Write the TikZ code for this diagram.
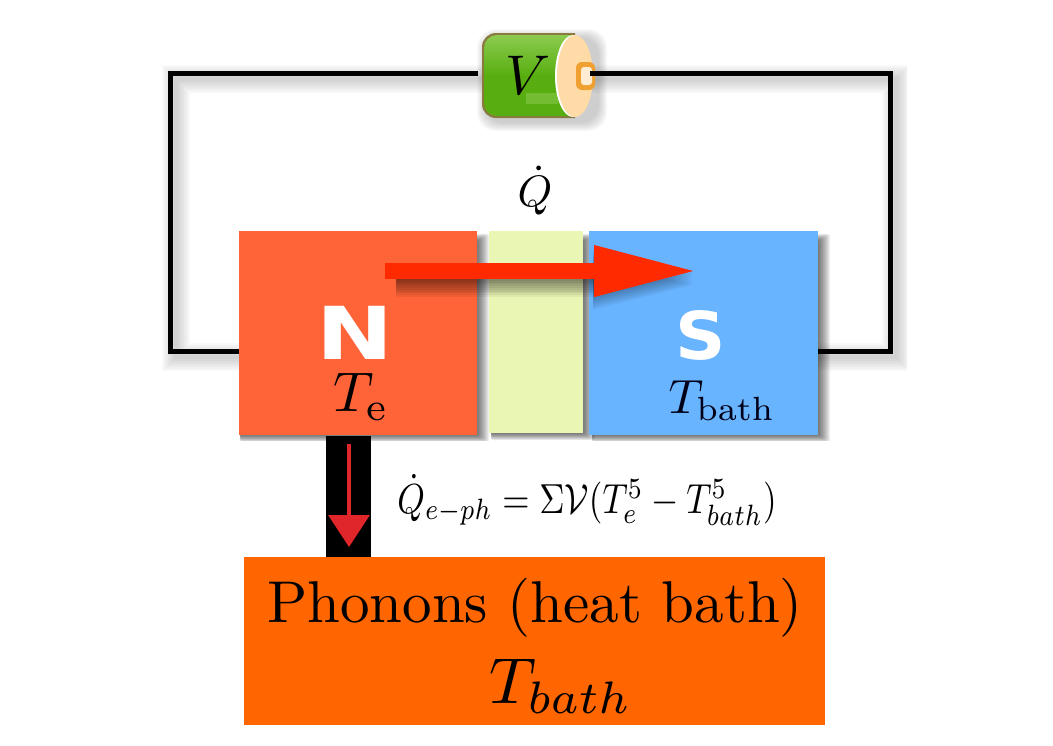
\documentclass[tikz,border=0pt]{standalone}
\usepackage{fontspec}
\newfontfamily\polefont{DejaVu Sans}
\usetikzlibrary{arrows.meta}
\definecolor{nred}{HTML}{FF6438}
\definecolor{sblue}{HTML}{69B4FF}
\definecolor{barrier}{HTML}{EAF6B4}
\definecolor{bathorange}{HTML}{FF6600}
\definecolor{heatred}{HTML}{FF2A00}
\definecolor{downred}{HTML}{E0262A}
\definecolor{battgreen}{HTML}{58AE10}
\definecolor{battlight}{HTML}{8CCB50}
\definecolor{battcap}{HTML}{FFDBA8}
\definecolor{battedge}{HTML}{8A7A40}
\definecolor{nuborange}{HTML}{EFA030}
\newcommand{\softbox}[4]{%
  \foreach \k in {1,...,12}{%
    \fill[black,opacity=0.06,rounded corners=2pt] (#1,#2+7-0.6*\k) rectangle (#3+\k,#4+0.6*\k);}}
\newcommand{\softline}[1]{%
  \foreach \w in {4,8,...,28}{%
    \draw[black,opacity=0.028,line width=\w pt] #1;}}
\tikzset{
  x=1pt,y=-1pt,
  wire/.style={draw=black,line width=5pt,line join=miter},
  block/.style={draw=none,minimum height=204pt,inner sep=0pt,outer sep=0pt,anchor=north west},
  polelabel/.style={text=white,inner sep=0pt,font=\polefont\bfseries},
  mathlabel/.style={inner sep=0pt,text=black},
  heatarrow/.style={draw=heatred,line width=16pt,-{Triangle[length=104pt,width=47pt,color=heatred]}},
  downarrow/.style={draw=downred,line width=3.5pt,-{Triangle[length=32pt,width=41pt,color=downred]}},
}
\begin{document}
\begin{tikzpicture}
\useasboundingbox (0,0) rectangle (1053,745);
% soft shadows
\begin{scope}
\clip (130,45) rectangle (907,440);
\softline{(488,79) -- (176,79) -- (176,357) -- (250,357)}
\softline{(590,79) -- (896,79) -- (896,357) -- (810,357)}
\softbox{240}{234}{477}{435}
\softbox{491}{234}{583}{433}
\softbox{592}{234}{818}{435}
\end{scope}
% blocks
\node[block,fill=nred,minimum width=238.5pt] (N) at (238.5,231) {};
\node[block,fill=barrier,minimum width=94pt,minimum height=202pt] (B) at (489,231) {};
\node[block,fill=sblue,minimum width=229pt] (S) at (589,231) {};
\node[draw=none,fill=black,minimum width=45pt,minimum height=122pt,inner sep=0pt,outer sep=0pt,anchor=north west] (bar) at (326,436) {};
\node[draw=none,fill=bathorange,minimum width=581pt,minimum height=168pt,inner sep=0pt,outer sep=0pt,anchor=north west] (bath) at (244,557) {};
% battery
\foreach \k in {1,...,9}{\fill[black,opacity=0.022,rounded corners=18pt] (486-\k,38-\k) rectangle (598+\k,122+\k);}
\fill[battedge,rounded corners=14pt] (575,33) -- (482,33) -- (482,118) -- (575,118);
\shade[top color=battlight,bottom color=battgreen,middle color=battgreen,rounded corners=13pt] (575,35) -- (484,35) -- (484,116) -- (575,116);
\fill[battlight,opacity=.55] (526,93) rectangle (558,104);
\fill[white] (573,76) ellipse [x radius=18,y radius=41];
\fill[battcap] (575,76) ellipse [x radius=18,y radius=41];
\fill[nuborange,rounded corners=6pt] (576,62) rectangle (595,90);
\fill[battcap!50!white,rounded corners=3pt] (581,67) rectangle (592,85);
\node[minimum width=112pt,minimum height=84pt,inner sep=0pt,outer sep=0pt] (batt) at (534,73) {};
\node[mathlabel,scale=5.6] (vlabel) at (528,75) {$V$};
% circuit wire
\coordinate (tl) at (170,73);
\coordinate (bl) at (170,351);
\coordinate (tr) at (890,73);
\coordinate (br) at (890,351);
\draw[wire] (batt.west) -- (tl) -- (bl) -- (N.west |- bl);
\draw[wire] (batt.east) -- (tr) -- (br) -- (S.east |- br);
% heat arrow
\coordinate (qstart) at (385,271);
\coordinate (qend) at (698,271);
\foreach \k in {1,...,10}{%
  \fill[black,opacity=.055] (396,279) rectangle (596,279+1.8*\k);
  \fill[black,opacity=.035] (593,247+1.6*\k) -- (693,271+1.4*\k) -- (593,294+1.6*\k) -- cycle;}
\draw[heatarrow] (qstart) -- (qend);
\coordinate (dstart) at (349,444);
\coordinate (dend) at (349,547);
\draw[downarrow] (dstart) -- (dend);
% labels
\node[mathlabel,scale=4.4] (qdot) at (535,191) {$\dot{Q}$};
\node[polelabel,xscale=9.2,yscale=7.3] (nl) at (355,333) {N};
\node[polelabel,xscale=7.0,yscale=6.6] (sl) at (701,335) {S};
\node[mathlabel,scale=5.6] (te) at (361,397) {$T_{\mathrm{e}}$};
\node[mathlabel,scale=4.8,text=black!90!blue] (tb) at (722,401) {$T_{\mathrm{bath}}$};
\node[mathlabel,xscale=3.5,yscale=4.2] (eq) at (587,500) {$\dot{Q}_{e-ph}=\Sigma\mathcal{V}(T_e^5-T_{bath}^5)$};
\node[mathlabel,scale=5.9] (ph) at (535,608) {Phonons (heat bath)};
\node[mathlabel,scale=6.5] (tbb) at (561,686) {$T_{bath}$};
\end{tikzpicture}
\end{document}
